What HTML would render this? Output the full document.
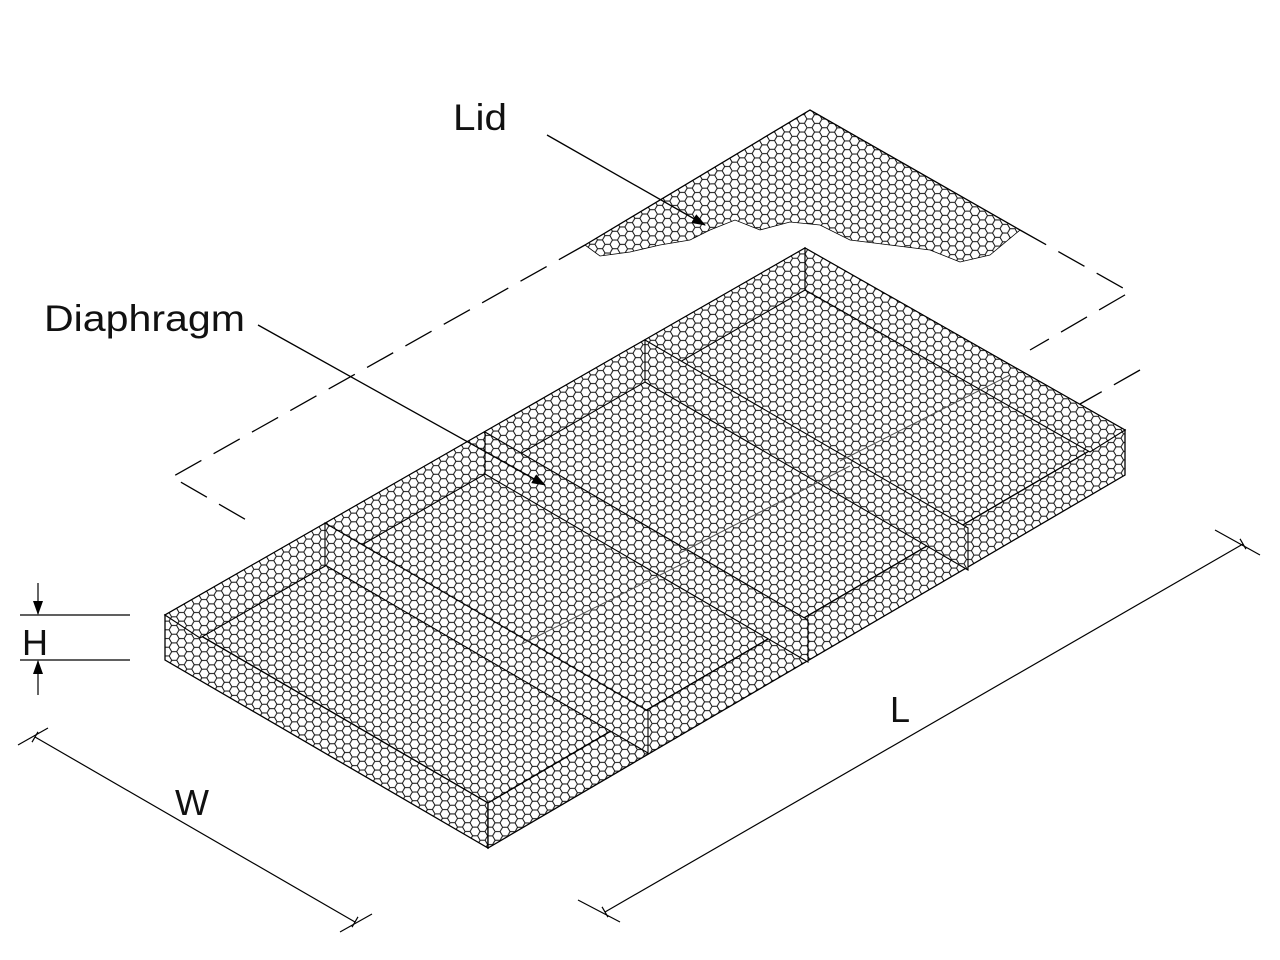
<!DOCTYPE html>
<html><head><meta charset="utf-8"><style>
html,body{margin:0;padding:0;background:#fff;}
svg{display:block;}
text{font-family:"Liberation Sans",sans-serif;fill:#111;}
</style></head><body>
<svg width="1280" height="960" viewBox="0 0 1280 960" xmlns="http://www.w3.org/2000/svg">
<defs>
<pattern id="hex" width="12" height="21" patternUnits="userSpaceOnUse" patternTransform="rotate(-30) scale(0.72)">
<rect width="12" height="21" fill="#fff"/>
<path d="M6,0 L12,3.5 V10.5 L6,14 L0,10.5 V3.5 Z M6,14 V21" fill="none" stroke="#111" stroke-width="1.4"/>
</pattern>
<marker id="ar" markerWidth="14" markerHeight="10" refX="13" refY="5" orient="auto" markerUnits="userSpaceOnUse">
<path d="M0,0 L14,5 L0,10 Z" fill="#000"/></marker>
<marker id="tk" markerWidth="12" markerHeight="12" refX="6" refY="6" orient="auto" markerUnits="userSpaceOnUse">
<path d="M6,0 V12" stroke="#000" stroke-width="1.2"/></marker>
</defs>

<g fill="none" stroke="#000" stroke-width="1.3" stroke-dasharray="30,14">
<path d="M585,245 L172,477 L255,525"/>
<path d="M1020,230 L1130,292 L1030,350"/>
<path d="M1140,370 L1080,404"/>
</g>
<path d="M585,245 L810,110 L1020,230 L990,255 L960,262 L930,250 L890,245 L850,240 L820,225 L790,222 L760,230 L735,220 L710,230 L690,240 L660,245 L630,252 L600,256 Z" fill="url(#hex)" stroke="#000" stroke-width="0.8"/>
<path d="M585,245 L810,110 L1020,230" fill="none" stroke="#000" stroke-width="1.3"/>

<polygon points="165,615 805,248 1125,430 488,803" fill="url(#hex)" stroke="#000" stroke-width="1.3"/>
<polygon points="165,615 488,803 488,848 165,660" fill="url(#hex)" stroke="#000" stroke-width="1.3"/>
<polygon points="488,803 1125,430 1125,475 488,848" fill="url(#hex)" stroke="#000" stroke-width="1.3"/>
<g fill="url(#hex)" stroke="#000" stroke-width="1.1">
<polygon points="165,615 805,248 805,290 200,638"/>
<polygon points="805,248 1125,430 1090,452 805,290"/>
</g>
<g stroke="#000" stroke-width="1.1" fill="url(#hex)">
<polygon points="325,523 648,711 648,753 325,565"/>
<polygon points="485,432 808,620 808,662 485,474"/>
<polygon points="645,340 968,528 968,570 645,382"/>
</g>
<g stroke="#555" stroke-width="1">
<line x1="520" y1="645" x2="690" y2="560"/>
<line x1="680" y1="553" x2="850" y2="466"/>
<line x1="840" y1="461" x2="1010" y2="375"/>
</g>

<text x="453" y="130" font-size="37" textLength="54" lengthAdjust="spacingAndGlyphs">Lid</text>
<line x1="547" y1="135" x2="705" y2="225" stroke="#000" stroke-width="1.3" marker-end="url(#ar)"/>
<text x="44" y="331" font-size="37" textLength="201" lengthAdjust="spacingAndGlyphs">Diaphragm</text>
<line x1="258" y1="325" x2="545" y2="485" stroke="#000" stroke-width="1.3" marker-end="url(#ar)"/>

<g stroke="#000" stroke-width="1.2">
<line x1="20" y1="615" x2="130" y2="615"/>
<line x1="20" y1="660" x2="130" y2="660"/>
<line x1="38" y1="583" x2="38" y2="614" marker-end="url(#ar)"/>
<line x1="38" y1="695" x2="38" y2="661" marker-end="url(#ar)"/>
</g>
<text x="22" y="655" font-size="36">H</text>

<g stroke="#000" stroke-width="1.2">
<line x1="18" y1="745" x2="48" y2="728"/>
<line x1="340" y1="932" x2="372" y2="914"/>
<line x1="35" y1="737" x2="355" y2="922" marker-start="url(#tk)" marker-end="url(#tk)"/>
</g>
<text x="175" y="815" font-size="36">W</text>

<g stroke="#000" stroke-width="1.2">
<line x1="578" y1="900" x2="620" y2="922"/>
<line x1="1215" y1="530" x2="1260" y2="555"/>
<line x1="605" y1="912" x2="1243" y2="544" marker-start="url(#tk)" marker-end="url(#tk)"/>
</g>
<text x="890" y="722" font-size="36">L</text>
</svg>
</body></html>
